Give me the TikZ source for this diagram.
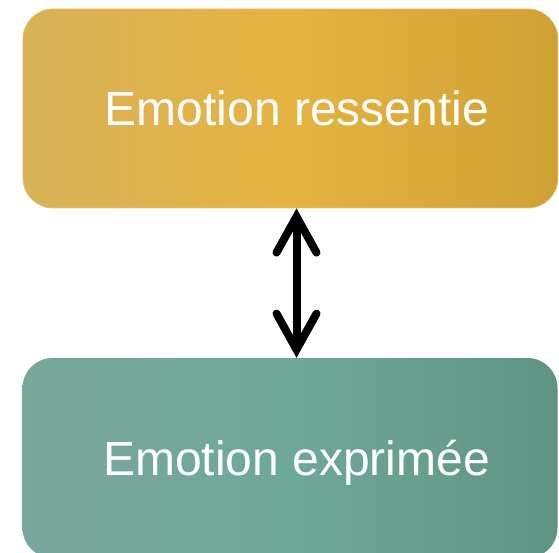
\documentclass[tikz,border=0pt]{standalone}
\usepackage{fontspec}
\setmainfont{Liberation Sans}
\usetikzlibrary{arrows.meta}
\definecolor{goldL}{RGB}{216,178,88}
\definecolor{goldM}{RGB}{229,179,64}
\definecolor{goldR}{RGB}{207,160,52}
\definecolor{tealL}{RGB}{120,167,155}
\definecolor{tealM}{RGB}{110,168,152}
\definecolor{tealR}{RGB}{95,148,132}
\tikzset{
  boxnode/.style={rounded corners=30pt, minimum width=535pt, minimum height=199pt,
    text=white, font=\fontsize{48pt}{56pt}\selectfont, inner sep=0pt,
    text height=34pt, text depth=0pt},
  goldbox/.style={boxnode, left color=goldL, right color=goldR, middle color=goldM, draw=goldL!80!white, line width=0.8pt},
  tealbox/.style={boxnode, left color=tealL, right color=tealR, middle color=tealM, minimum height=200pt},
  dblarrow/.style={line width=8pt, {Straight Barb[length=36pt, width=40pt, line cap=round, line join=miter]}-{Straight Barb[length=36pt, width=40pt, line cap=round, line join=miter]}}
}
\begin{document}
\begin{tikzpicture}[x=1pt,y=1pt]
\useasboundingbox (0,0) rectangle (559,552);
\clip (0,0) rectangle (559,552);
\node[goldbox] (top) at (290.5,443.5) {\hspace*{13pt}Emotion ressentie};
\node[tealbox] (bot) at (290,94) {\hspace*{13pt}Emotion exprimée};
\coordinate (ax) at (296.5,0);
\draw[dblarrow] (top.south -| ax) -- (bot.north -| ax);
\end{tikzpicture}
\end{document}
